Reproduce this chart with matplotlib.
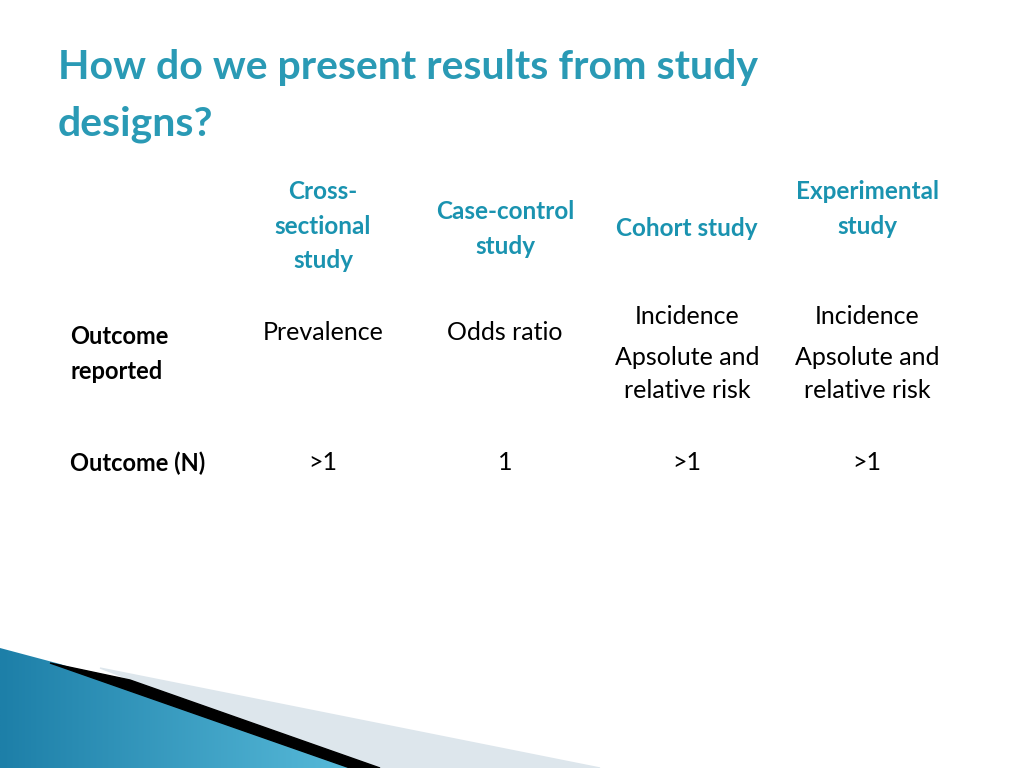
import numpy as np
import matplotlib.pyplot as plt
from matplotlib.patches import Polygon
from matplotlib.colors import LinearSegmentedColormap

title_lines = ["How do we present results from study", "designs?"]
col_headers = ["Cross-\nsectional\nstudy", "Case-control\nstudy", "Cohort study", "Experimental\nstudy"]
row_labels = ["Outcome\nreported", "Outcome (N)"]
outcome_reported = ["Prevalence", "Odds ratio", "Incidence", "Incidence"]
risk_text = ["", "", "Apsolute and\nrelative risk", "Apsolute and\nrelative risk"]
outcome_n = [">1", "1", ">1", ">1"]

teal = "#1a93b0"
fig = plt.figure(figsize=(10.24, 7.68), dpi=100)
ax = fig.add_axes([0, 0, 1, 1])
ax.set_xlim(0, 1024)
ax.set_ylim(768, 0)
ax.axis("off")
font = "Lato"

# title
ax.text(58, 68, title_lines[0], fontsize=29.5, fontweight="bold", color="#2a9ab5",
        family=font, va="center", ha="left")
ax.text(58, 124, title_lines[1], fontsize=29.5, fontweight="bold", color="#2a9ab5",
        family=font, va="center", ha="left")

xs = [323, 505, 687, 867]
header_y = [226, 229, 229, 209]
for x, h, y in zip(xs, col_headers, header_y):
    ax.text(x, y, h, fontsize=17.5, fontweight="bold", color=teal, family=font,
            ha="center", va="center", linespacing=1.6)

ax.text(70, 354, row_labels[0], fontsize=17, fontweight="bold", family=font,
        ha="left", va="center", linespacing=1.6)
ax.text(70, 463, row_labels[1], fontsize=17, fontweight="bold", family=font,
        ha="left", va="center")

for x, o, r, n in zip(xs, outcome_reported, risk_text, outcome_n):
    if r:
        ax.text(x, 317, o, fontsize=18, family=font, ha="center", va="center")
        ax.text(x, 374, r, fontsize=18, family=font, ha="center", va="center",
                linespacing=1.5)
    else:
        ax.text(x, 333, o, fontsize=18, family=font, ha="center", va="center")
    ax.text(x, 463, n, fontsize=18, family=font, ha="center", va="center")

# bottom-left decoration
ax.add_patch(Polygon([(100, 668), (600, 768), (360, 768)], closed=True,
                     color="#dde6ec", zorder=1))
grad = np.linspace(0, 1, 256).reshape(1, -1)
im = ax.imshow(grad, extent=[0, 400, 768, 648],
               cmap=LinearSegmentedColormap.from_list("b", ["#1d7fa8", "#5fc2e0"]),
               aspect="auto", zorder=2)
blue = Polygon([(0, 648), (60, 664), (380, 768), (0, 768)], closed=True,
               transform=ax.transData)
im.set_clip_path(blue)
ax.add_patch(Polygon([(50, 663), (130, 680), (380, 768), (350, 768)], closed=True,
                     color="black", zorder=3))
ax.set_xlim(0, 1024)
ax.set_ylim(768, 0)

fig.savefig("out.png", dpi=100)
